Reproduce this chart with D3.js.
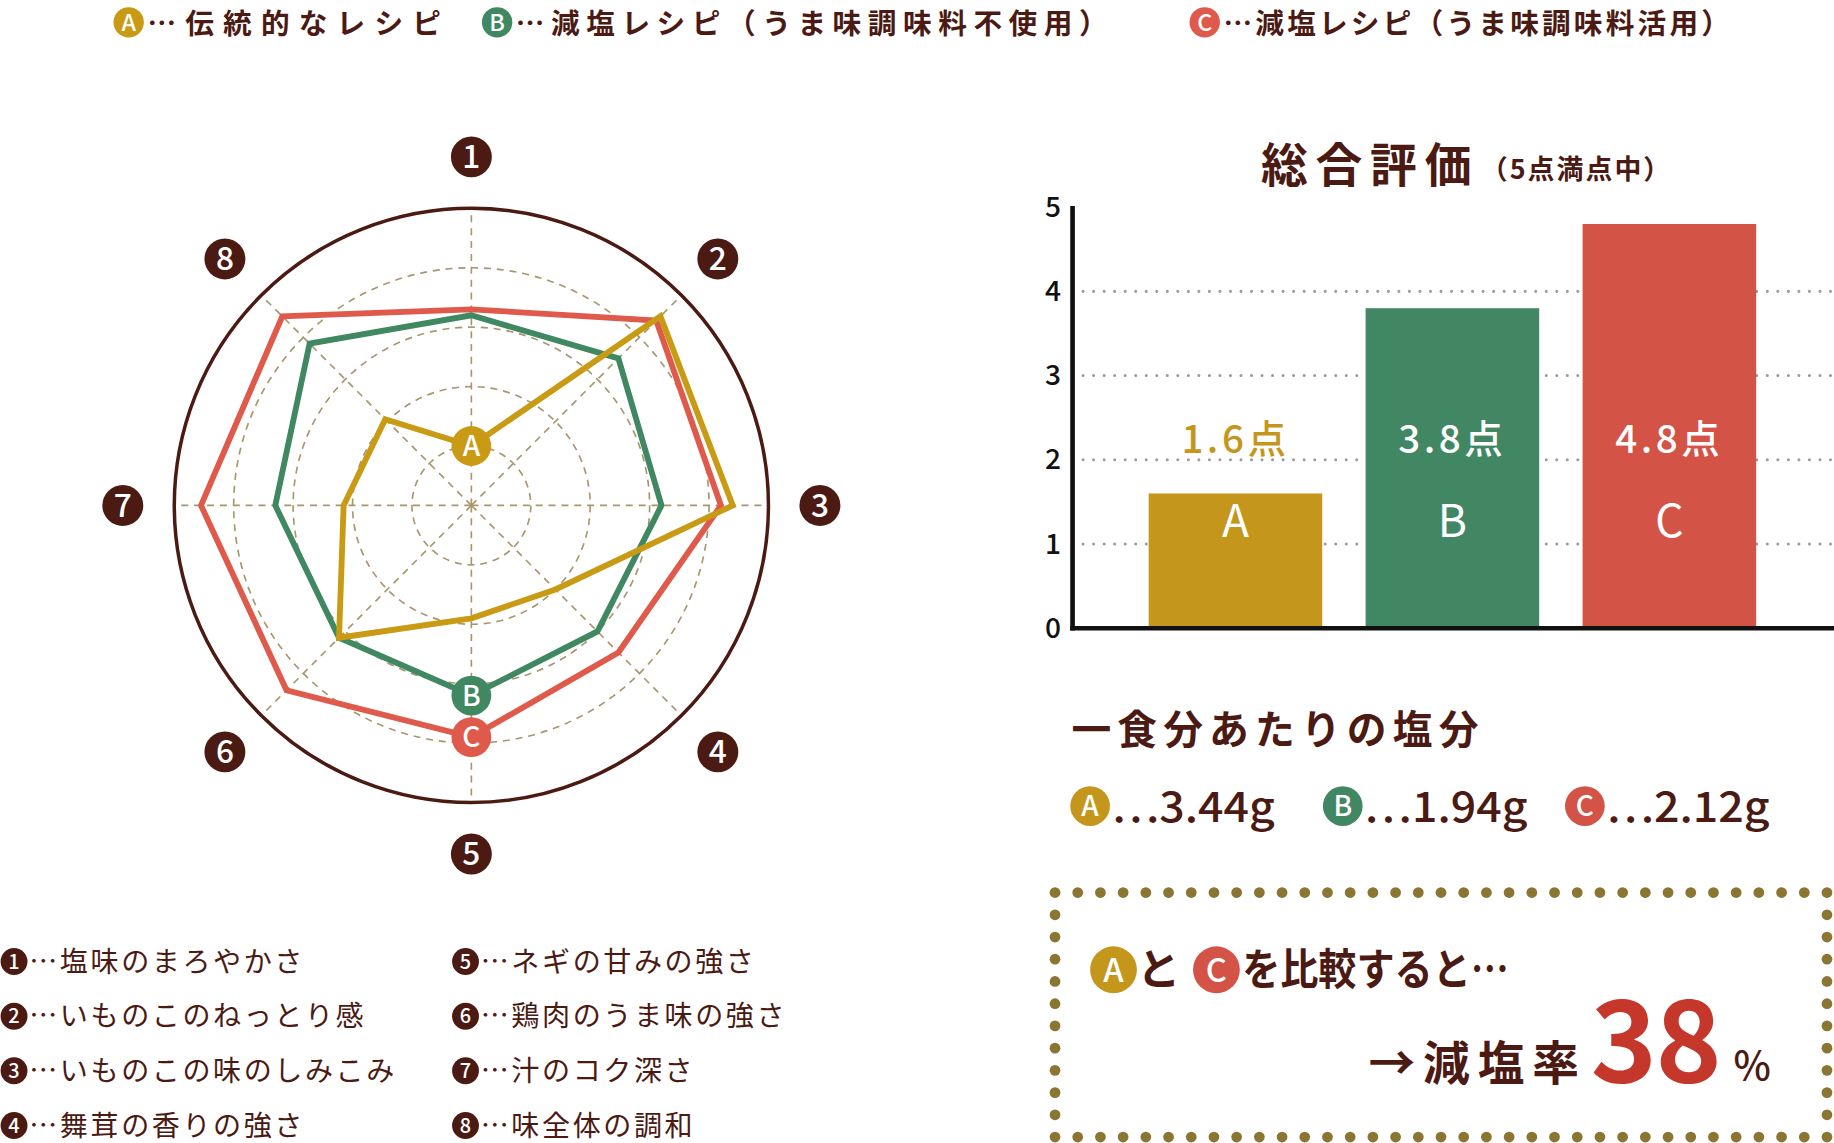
<!DOCTYPE html>
<html>
<head>
<meta charset="utf-8">
<script src="https://cdn.jsdelivr.net/npm/d3@7"></script>
<style>
  body { margin: 0; background: #fff; }
  svg { display: block; }
  text { font-family: "Noto Sans CJK JP", "Noto Sans", sans-serif; }
</style>
</head>
<body>
<svg id="chart"></svg>
<script>
// データ
const seriesKeys = ["A", "B", "C"];
const seriesNames = ["伝統的なレシピ", "減塩レシピ（うま味調味料不使用）", "減塩レシピ（うま味調味料活用）"];
const axisNumbers = ["1", "2", "3", "4", "5", "6", "7", "8"];
const itemNames = ["塩味のまろやかさ", "いものこのねっとり感", "いものこの味のしみこみ", "舞茸の香りの強さ",
                   "ネギの甘みの強さ", "鶏肉のうま味の強さ", "汁のコク深さ", "味全体の調和"];
const valuesA = [1.0, 4.5, 4.4, 2.0, 1.9, 3.15, 2.15, 2.05];
const valuesB = [3.2, 3.5, 3.2, 3.0, 3.2, 3.15, 3.3, 3.85];
const valuesC = [3.3, 4.4, 4.2, 3.5, 3.9, 4.4, 4.55, 4.5];
const markerAxis = [0, 4, 4];        // 系列記号を置く軸
const scoreValues = [1.6, 3.8, 4.8];
const scoreTicks = [0, 1, 2, 3, 4, 5];
const saltValues = [3.44, 1.94, 2.12];
const reductionRate = 38;

const lineColors = ["#c99a14", "#3f8862", "#df5a4b"];
const barColors = ["#c4961b", "#428763", "#d35346"];
const brown = "#4b1a13";

const svg = d3.select("#chart")
    .attr("width", 1834)
    .attr("height", 1143)
    .attr("viewBox", "0 0 1568 977");

//記号付き丸
function badge(g, x, y, r, fill, label, fontsize) {
    g.append("circle").attr("cx", x).attr("cy", y).attr("r", r).attr("fill", fill);
    g.append("text")
        .attr("x", x).attr("y", y)
        .attr("dy", "0.36em")
        .attr("text-anchor", "middle")
        .attr("fill", "#fff")
        .attr("font-size", fontsize)
        .attr("font-weight", 500)
        .text(label);
}

//上部凡例
const legendX = [110, 425, 1030];
const legendLen = [251, 506, 433];
const topLegend = svg.append("g");
seriesKeys.forEach((k, i) => {
    badge(topLegend, legendX[i], 19, 13, lineColors[i], k, 20);
    topLegend.append("text")
        .attr("x", legendX[i] + 16).attr("y", 20)
        .attr("dy", "0.36em")
        .attr("font-size", 24.5)
        .attr("font-weight", 700)
        .attr("textLength", legendLen[i])
        .attr("lengthAdjust", "spacing")
        .attr("fill", brown)
        .text("…" + seriesNames[i]);
});

//レーダーチャート
const cx = 403, cy = 432, R = 254;
const r = d3.scaleLinear().domain([0, 5]).range([0, R]);
const angle = i => i * 2 * Math.PI / axisNumbers.length;
const radar = svg.append("g").attr("transform", `translate(${cx},${cy})`);

radar.append("g")
    .selectAll("circle")
    .data(r.ticks(5).filter(d => d > 0 && d < 5))
    .join("circle")
    .attr("r", d => r(d))
    .attr("fill", "none")
    .attr("stroke", "#a8966c")
    .attr("stroke-width", 1.4)
    .attr("stroke-dasharray", "6 5");

radar.append("g")
    .selectAll("line")
    .data(axisNumbers)
    .join("line")
    .attr("x2", (d, i) => Math.sin(angle(i)) * R)
    .attr("y2", (d, i) => -Math.cos(angle(i)) * R)
    .attr("stroke", "#a8966c")
    .attr("stroke-width", 1.4)
    .attr("stroke-dasharray", "6 5");

radar.append("circle")
    .attr("r", r(5))
    .attr("fill", "none")
    .attr("stroke", brown)
    .attr("stroke-width", 3);

const radialLine = d3.lineRadial()
    .angle((d, i) => angle(i))
    .radius(d => r(d))
    .curve(d3.curveLinearClosed);

const seriesValues = [valuesA, valuesB, valuesC];
const drawOrder = [2, 1, 0];
radar.append("g")
    .selectAll("path")
    .data(drawOrder)
    .join("path")
    .attr("d", s => radialLine(seriesValues[s]))
    .attr("fill", "none")
    .attr("stroke", s => lineColors[s])
    .attr("stroke-width", 5)
    .attr("stroke-linejoin", "miter");

[0, 1, 2].forEach(s => {
    const a = angle(markerAxis[s]);
    const rr = r(seriesValues[s][markerAxis[s]]);
    badge(radar, Math.sin(a) * rr, -Math.cos(a) * rr, 17, lineColors[s], seriesKeys[s], 24);
});

axisNumbers.forEach((n, i) => {
    const a = angle(i);
    badge(radar, Math.sin(a) * 298, -Math.cos(a) * 298, 17.5, brown, n, 27);
});

//項目の凡例
const itemLegend = svg.append("g");
itemNames.forEach((name, i) => {
    const col = Math.floor(i / 4), row = i % 4;
    const x = col === 0 ? 12 : 398;
    const y = 822 + row * 46.7;
    badge(itemLegend, x, y, 11.5, brown, axisNumbers[i], 17);
    itemLegend.append("text")
        .attr("x", x + 13).attr("y", y)
        .attr("dy", "0.36em")
        .attr("font-size", 24)
        .attr("font-weight", 400)
        .attr("letter-spacing", 2.2)
        .attr("fill", brown)
        .text("…" + name);
});

//総合評価
const bars = svg.append("g");
bars.append("text")
    .attr("x", 1078).attr("y", 141)
    .attr("dy", "0.36em")
    .attr("fill", brown)
    .attr("font-weight", 700)
    .attr("font-size", 40)
    .attr("textLength", 180)
    .attr("lengthAdjust", "spacing")
    .text("総合評価");
bars.append("text")
    .attr("x", 1266).attr("y", 145)
    .attr("dy", "0.36em")
    .attr("fill", brown)
    .attr("font-weight", 700)
    .attr("font-size", 23)
    .attr("textLength", 162)
    .attr("lengthAdjust", "spacing")
    .text("（5点満点中）");

const x = d3.scaleBand().domain(seriesKeys).range([963.5, 1520]).paddingInner(0.2).paddingOuter(0.1);
const y = d3.scaleLinear().domain([0, 5]).range([537, 177]);

bars.append("g")
    .selectAll("line")
    .data(scoreTicks.filter(d => d > 0 && d < 5))
    .join("line")
    .attr("x1", 926).attr("x2", 1568)
    .attr("y1", d => y(d)).attr("y2", d => y(d))
    .attr("stroke", "#9a9a9a")
    .attr("stroke-width", 2.6)
    .attr("stroke-linecap", "round")
    .attr("stroke-dasharray", "0 9");

bars.append("g")
    .selectAll("rect")
    .data(scoreValues)
    .join("rect")
    .attr("x", (d, i) => x(seriesKeys[i]))
    .attr("width", x.bandwidth())
    .attr("y", d => y(d))
    .attr("height", d => y(0) - y(d))
    .attr("fill", (d, i) => barColors[i]);

bars.append("g")
    .selectAll("text")
    .data(scoreValues)
    .join("text")
    .attr("x", (d, i) => x(seriesKeys[i]) + x.bandwidth() / 2)
    .attr("y", 375)
    .attr("dy", "0.36em")
    .attr("text-anchor", "middle")
    .attr("font-size", 33)
    .attr("font-weight", 500)
    .attr("letter-spacing", 3)
    .attr("fill", (d, i) => i === 0 ? barColors[0] : "#fff")
    .text(d => d.toFixed(1) + "点");

bars.append("g")
    .selectAll("text")
    .data(seriesKeys)
    .join("text")
    .attr("x", d => x(d) + x.bandwidth() / 2)
    .attr("y", 445)
    .attr("dy", "0.36em")
    .attr("text-anchor", "middle")
    .attr("font-size", 38)
    .attr("font-weight", 400)
    .attr("fill", "#fff")
    .text(d => d);

const yAxis = bars.append("g")
    .attr("transform", "translate(917,0)")
    .call(d3.axisLeft(y).tickValues(scoreTicks).tickSize(0).tickPadding(10).tickFormat(d3.format("d")));
yAxis.select(".domain").remove();
yAxis.selectAll("text")
    .attr("font-size", 24)
    .attr("font-weight", 500)
    .attr("fill", "#111");

bars.append("line")
    .attr("x1", 917).attr("x2", 917).attr("y1", 176).attr("y2", 539)
    .attr("stroke", "#111").attr("stroke-width", 4);
bars.append("line")
    .attr("x1", 915).attr("x2", 1568).attr("y1", y(0)).attr("y2", y(0))
    .attr("stroke", "#111").attr("stroke-width", 4);

//一食分あたりの塩分
const salt = svg.append("g");
salt.append("text")
    .attr("x", 916).attr("y", 624)
    .attr("dy", "0.36em")
    .attr("font-size", 34)
    .attr("font-weight", 700)
    .attr("textLength", 348)
    .attr("lengthAdjust", "spacing")
    .attr("fill", brown)
    .text("一食分あたりの塩分");

const saltX = [932, 1148, 1355];
seriesKeys.forEach((k, i) => {
    badge(salt, saltX[i], 689, 17, barColors[i], k, 24);
    salt.append("text")
        .attr("x", saltX[i] + 18).attr("y", 690)
        .attr("dy", "0.36em")
        .attr("font-size", 36)
        .attr("font-weight", 500)
        .attr("textLength", 140)
        .attr("lengthAdjust", "spacingAndGlyphs")
        .attr("fill", brown)
        .text("…" + saltValues[i].toFixed(2) + "g");
});

//減塩率の枠
const box = svg.append("g");
const bx0 = 902, bx1 = 1562, by0 = 763, by1 = 972;
const nx = 34, ny = 11;
const dots = [];
for (let i = 0; i <= nx; i++) {
    dots.push([bx0 + (bx1 - bx0) * i / nx, by0]);
    dots.push([bx0 + (bx1 - bx0) * i / nx, by1]);
}
for (let j = 1; j < ny; j++) {
    dots.push([bx0, by0 + (by1 - by0) * j / ny]);
    dots.push([bx1, by0 + (by1 - by0) * j / ny]);
}
box.selectAll("circle.dot")
    .data(dots)
    .join("circle")
    .attr("class", "dot")
    .attr("cx", d => d[0]).attr("cy", d => d[1])
    .attr("r", 4.6)
    .attr("fill", "#8a7532");

badge(box, 952, 829, 20, barColors[0], "A", 28);
box.append("text")
    .attr("x", 972).attr("y", 829).attr("dy", "0.36em")
    .attr("font-size", 37).attr("font-weight", 700).attr("fill", brown)
    .text("と");
badge(box, 1040, 829, 20, barColors[2], "C", 28);
box.append("text")
    .attr("x", 1062).attr("y", 829).attr("dy", "0.36em")
    .attr("font-size", 37).attr("font-weight", 700)
    .attr("textLength", 228).attr("lengthAdjust", "spacingAndGlyphs")
    .attr("fill", brown)
    .text("を比較すると…");

box.append("text")
    .attr("x", 1170).attr("y", 923)
    .attr("font-size", 40).attr("font-weight", 700)
    .attr("textLength", 180).attr("lengthAdjust", "spacing")
    .attr("fill", brown)
    .text("→減塩率");
box.append("text")
    .attr("x", 1360).attr("y", 925)
    .attr("font-size", 96).attr("font-weight", 700)
    .attr("textLength", 112).attr("lengthAdjust", "spacing")
    .attr("fill", "#c4372a")
    .text(reductionRate);
box.append("text")
    .attr("x", 1482).attr("y", 923)
    .attr("font-size", 34).attr("font-weight", 500).attr("fill", brown)
    .text("%");
</script>
</body>
</html>
